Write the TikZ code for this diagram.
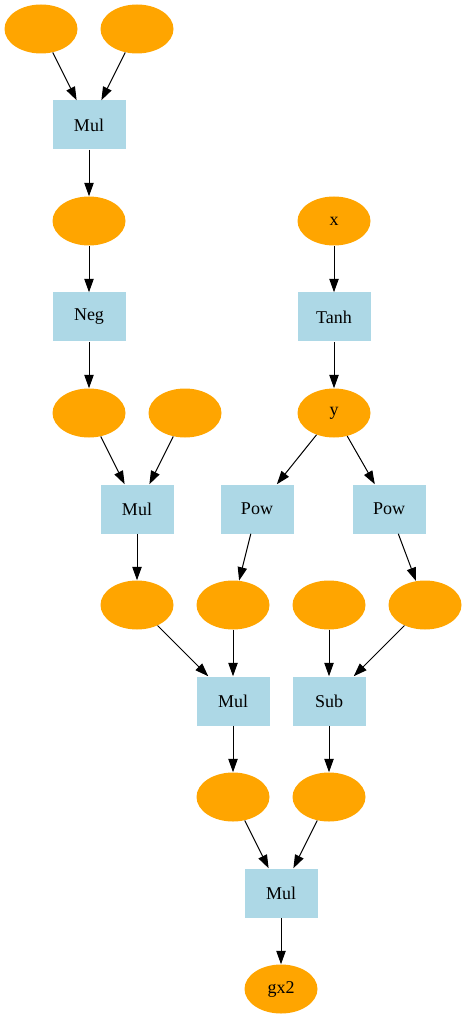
\documentclass[tikz,border=0pt]{standalone}
\usepackage{fontspec}
\setmainfont{Liberation Serif}
\usetikzlibrary{shapes.geometric,arrows.meta}
\definecolor{orng}{RGB}{255,165,0}
\definecolor{lblue}{RGB}{173,216,230}
\tikzset{
  var/.style={ellipse,fill=orng,draw=none,minimum width=54.75pt,minimum height=36.75pt,inner sep=0pt,font=\fontsize{13.5}{16}\selectfont},
  fn/.style={rectangle,fill=lblue,draw=none,minimum width=54.75pt,minimum height=36.75pt,inner sep=0pt,font=\fontsize{13.5}{16}\selectfont},
  edge/.style={draw=black,line width=0.75pt,-{Triangle[length=10pt,width=7pt]}}
}
\begin{document}
\begin{tikzpicture}[x=0.75pt,y=-0.75pt]
\useasboundingbox (0,0) rectangle (467,1019);
\node[var] (e1) at (41,29) {};
\node[var] (e2) at (137,29) {};
\node[fn] (m1) at (89,125) {Mul};
\node[var] (e3) at (89,221) {};
\node[fn] (neg) at (89,317) {Neg};
\node[var] (e4) at (89,413) {};
\node[var] (e5) at (185,413) {};
\node[fn] (m2) at (137,509) {Mul};
\node[var] (x) at (334,221) {x};
\node[fn] (tanh) at (334,317) {Tanh};
\node[var] (y) at (334,413) {y};
\node[fn] (p1) at (257,509) {Pow};
\node[fn] (p2) at (389,509) {Pow};
\node[var] (e6) at (137,605) {};
\node[var] (e7) at (233,605) {};
\node[var] (e8) at (329,605) {};
\node[var] (e9) at (425,605) {};
\node[fn] (m3) at (233,701) {Mul};
\node[fn] (sub) at (329,701) {Sub};
\node[var] (e10) at (233,797) {};
\node[var] (e11) at (329,797) {};
\node[fn] (m4) at (281,893) {Mul};
\node[var] (gx2) at (281,989) {gx2};
\draw[edge] (e1) -- (m1);
\draw[edge] (e2) -- (m1);
\draw[edge] (m1) -- (e3);
\draw[edge] (e3) -- (neg);
\draw[edge] (neg) -- (e4);
\draw[edge] (e4) -- (m2);
\draw[edge] (e5) -- (m2);
\draw[edge] (m2) -- (e6);
\draw[edge] (x) -- (tanh);
\draw[edge] (tanh) -- (y);
\draw[edge] (y) -- (p1);
\draw[edge] (y) -- (p2);
\draw[edge] (p1) -- (e7);
\draw[edge] (p2) -- (e9);
\draw[edge] (e6) -- (m3);
\draw[edge] (e7) -- (m3);
\draw[edge] (e8) -- (sub);
\draw[edge] (e9) -- (sub);
\draw[edge] (m3) -- (e10);
\draw[edge] (sub) -- (e11);
\draw[edge] (e10) -- (m4);
\draw[edge] (e11) -- (m4);
\draw[edge] (m4) -- (gx2);
\end{tikzpicture}
\end{document}
